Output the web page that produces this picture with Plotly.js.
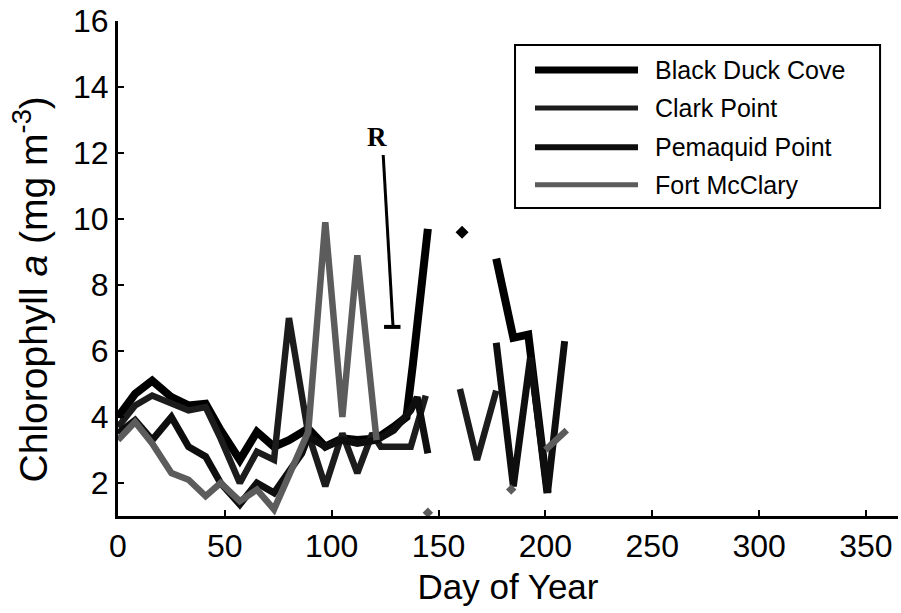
<!DOCTYPE html>
<html>
<head>
<meta charset="utf-8">
<script src="https://cdn.plot.ly/plotly-3.0.1.min.js"></script>
<style>html,body{margin:0;padding:0;background:#fff;}#chart{width:901px;height:613px;}</style>
</head>
<body>
<div id="chart"></div>
<script>
// ---- data (day of year, chlorophyll a in mg m^-3); null = gap ----
const seriesNames = ['Black Duck Cove', 'Clark Point', 'Pemaquid Point', 'Fort McClary'];

const dayBlackDuck = [0, 8, 16, 25, 33, 41, 48, 57, 65, 73, 80, 89, 97, 105, 112, 121, 129, 135, 138, 145, 153, 161, 169, 177, 185, 192, 201];
const chlBlackDuck = [4.0, 4.7, 5.1, 4.6, 4.35, 4.4, 3.6, 2.7, 3.55, 3.1, 3.3, 3.65, 3.1, 3.35, 3.3, 3.35, 3.7, 4.0, 5.6, 9.7, null, 9.6, null, 8.8, 6.4, 6.5, 1.7];

const dayClark = [0, 8, 16, 25, 33, 41, 48, 57, 65, 73, 80, 89, 97, 105, 112, 119, 123, 137, 144, 153, 160, 168, 177];
const chlClark = [3.7, 4.35, 4.65, 4.4, 4.2, 4.3, 3.35, 2.0, 2.95, 2.7, 7.0, 3.5, 1.9, 3.5, 2.3, 3.5, 3.1, 3.1, 4.65, null, 4.85, 2.7, 4.8];

const dayPemaquid = [0, 8, 16, 25, 33, 41, 48, 57, 65, 73, 86, 89, 97, 105, 112, 121, 129, 137, 140, 145, 161, 177, 185, 193, 201, 209];
const chlPemaquid = [3.5, 3.9, 3.3, 4.0, 3.1, 2.8, 2.0, 1.35, 2.0, 1.7, 2.9, 3.4, 3.1, 3.3, 3.2, 3.3, 3.6, 4.2, 4.6, 2.9, null, 6.25, 1.9, 5.8, 1.7, 6.3];

const dayFort = [0, 8, 16, 25, 33, 41, 48, 57, 65, 73, 89, 97, 105, 112, 121, 133, 145, 165, 184, 192, 200, 210];
const chlFort = [3.3, 3.85, 3.2, 2.3, 2.1, 1.6, 2.0, 1.45, 1.8, 1.2, 3.55, 9.9, 4.0, 8.9, 3.3, null, 1.1, null, 1.8, null, 3.0, 3.6];

const xTicks = [0, 50, 100, 150, 200, 250, 300, 350];
const yTicks = [2, 4, 6, 8, 10, 12, 14, 16];

// ---- styles ----
const colors = ['#000000', '#1c1c1c', '#0e0e0e', '#5c5c5c'];
const widths = [8, 6.5, 7, 6.5];
const legendWidths = [7, 5, 6, 5];
const FONT = 'Liberation Sans, Arial, Helvetica, sans-serif';

const xs = [dayBlackDuck, dayClark, dayPemaquid, dayFort];
const ys = [chlBlackDuck, chlClark, chlPemaquid, chlFort];

function isolated(x, y) {
  const px = [], py = [];
  y.forEach((v, i) => {
    if (v == null) return;
    const prev = i > 0 ? y[i - 1] : null;
    const next = i < y.length - 1 ? y[i + 1] : null;
    if (prev == null && next == null) { px.push(x[i]); py.push(v); }
  });
  return {px, py};
}

const traces = [];
seriesNames.forEach((name, k) => {
  traces.push({
    type: 'scatter', mode: 'lines', name: name,
    x: xs[k], y: ys[k], connectgaps: false,
    line: {color: colors[k], width: widths[k], shape: 'linear'},
    showlegend: false, hoverinfo: 'x+y+name'
  });
});
seriesNames.forEach((name, k) => {
  const iso = isolated(xs[k], ys[k]);
  if (iso.px.length) {
    traces.push({
      type: 'scatter', mode: 'markers', name: name,
      x: iso.px, y: iso.py,
      marker: {symbol: 'diamond', size: k === 3 ? 8 : 10, color: colors[k]},
      showlegend: false
    });
  }
});

// custom legend (MATLAB-style long line samples)
const legX0 = 0.509, legX1 = 0.977, legY0 = 0.622, legY1 = 0.9515;
const legRows = [0.901, 0.824, 0.745, 0.669];
const shapes = [
  {type: 'rect', xref: 'paper', yref: 'paper', x0: legX0, x1: legX1, y0: legY0, y1: legY1,
   line: {color: '#000', width: 2}, fillcolor: '#fff', layer: 'above'}
];
const annotations = [];
seriesNames.forEach((name, k) => {
  shapes.push({type: 'line', xref: 'paper', yref: 'paper', x0: 0.5346, x1: 0.6667, y0: legRows[k], y1: legRows[k],
    line: {color: colors[k], width: legendWidths[k]}, layer: 'above'});
  annotations.push({xref: 'paper', yref: 'paper', x: 0.686, y: legRows[k], xanchor: 'left', yanchor: 'middle',
    text: name, showarrow: false, font: {family: FONT, size: 25, color: '#000'}});
});

// "R" marker annotation
shapes.push({type: 'line', xref: 'x', yref: 'y', x0: 124.1, y0: 11.94, x1: 128.7, y1: 6.73, line: {color: '#000', width: 3}});
shapes.push({type: 'line', xref: 'x', yref: 'y', x0: 124.5, y0: 6.73, x1: 132.2, y1: 6.73, line: {color: '#000', width: 4}});
annotations.push({xref: 'x', yref: 'y', x: 121.3, y: 12.5, text: '<b>R</b>', showarrow: false,
  font: {family: 'Liberation Serif, Times New Roman, serif', size: 27, color: '#000'}});

// y-axis title (placed like the original, slightly below the axis centre)
annotations.push({xref: 'paper', yref: 'paper', x: -0.112, y: 0.457, xanchor: 'center', yanchor: 'middle',
  textangle: -90, showarrow: false, text: 'Chlorophyll <i>a</i> (mg m<sup>-3</sup>)',
  font: {family: FONT, size: 39, color: '#000'}});

const axisCommon = {
  showgrid: false, zeroline: false, showline: true, linecolor: '#000', linewidth: 3,
  ticks: 'inside', ticklen: 6, tickwidth: 2, tickcolor: '#000', mirror: false,
  tickfont: {family: FONT, size: 32, color: '#000'}
};

const layout = {
  width: 901, height: 613,
  margin: {l: 118, r: 3, t: 21, b: 97},
  paper_bgcolor: '#fff', plot_bgcolor: '#fff',
  showlegend: false,
  xaxis: Object.assign({}, axisCommon, {
    range: [0, 365], tickmode: 'array', tickvals: xTicks, ticktext: xTicks.map(String),
    title: {text: 'Day of Year', font: {family: FONT, size: 35, color: '#000'}, standoff: 12}
  }),
  yaxis: Object.assign({}, axisCommon, {
    range: [1, 16], tickmode: 'array', tickvals: yTicks, ticktext: yTicks.map(String)
  }),
  shapes: shapes,
  annotations: annotations
};

Plotly.newPlot('chart', traces, layout, {displayModeBar: false, staticPlot: true});
</script>
</body>
</html>
